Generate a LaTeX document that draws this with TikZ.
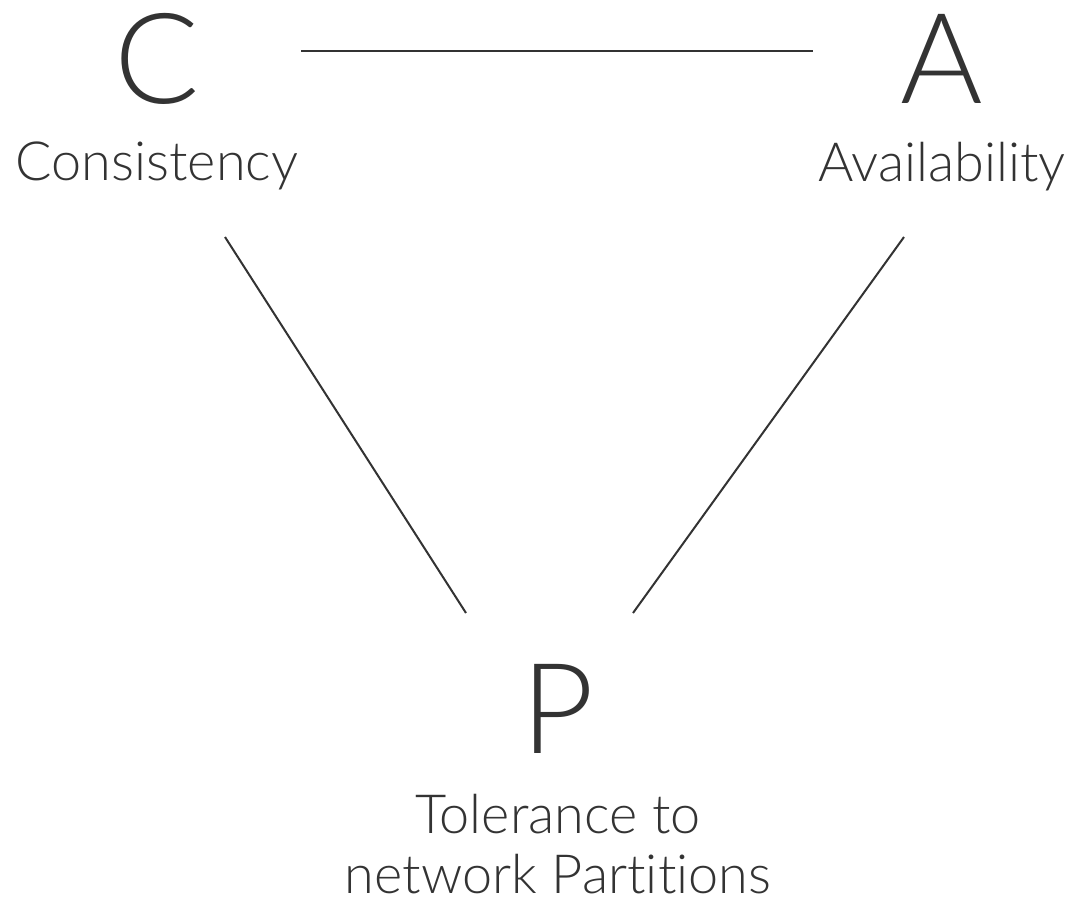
\documentclass[tikz,border=0pt]{standalone}
\usepackage{fontspec}
\setmainfont{Lato}[UprightFont=* Light, Ligatures=NoCommon]
\begin{document}
\begin{tikzpicture}[x=1pt,y=-1pt,
  letter/.style={inner sep=0pt, anchor=base, text=ink, font=\fontsize{126}{126}\selectfont},
  caption/.style={inner sep=0pt, anchor=base, text=ink, font=\fontsize{54}{60}\selectfont},
  edge/.style={draw=ink, line width=2pt}]
\definecolor{ink}{HTML}{333333}
\useasboundingbox (0,0) rectangle (1071,902);
% the three properties
\node[letter] (C) at (157,103) {C};
\node[caption] (Cl) at (157,180) {Consistency};
\node[letter] (A) at (942,103) {A};
\node[caption] (Al) at (942,181) {Availability};
\node[letter] (P) at (558,753) {P};
\node[caption] (Pl1) at (558,833) {Tolerance to};
\node[caption] (Pl2) at (558,893) {network Partitions};
% ends of the triangle sides
\coordinate (ca1) at (301,51);
\coordinate (ca2) at (813,51);
\coordinate (cp1) at (225,237);
\coordinate (cp2) at (466,613);
\coordinate (ap1) at (904,237);
\coordinate (ap2) at (633,613);
\draw[edge] (ca1) -- (ca2);
\draw[edge] (cp1) -- (cp2);
\draw[edge] (ap1) -- (ap2);
\end{tikzpicture}
\end{document}
